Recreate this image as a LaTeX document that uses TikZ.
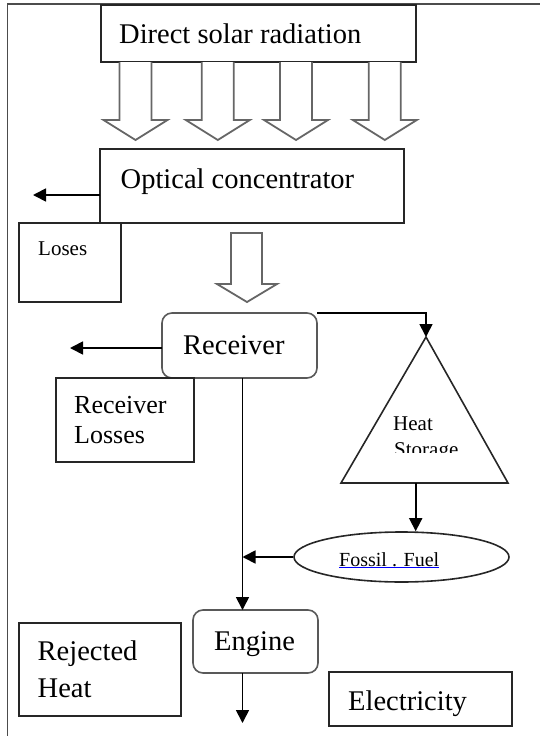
\documentclass[tikz,border=0pt]{standalone}
\usepackage{fontspec}
\setmainfont{Liberation Serif}
\usetikzlibrary{arrows.meta,shapes.geometric}

\begin{document}
\begin{tikzpicture}[x=1pt,y=-1pt,
  frame/.style={draw=black!70, line width=1.6pt},
  box/.style={draw=black!85, line width=1.8pt, inner sep=0pt, outer sep=0pt},
  rbox/.style={draw=black!65, line width=1.6pt, rounded corners=10pt, inner sep=0pt, outer sep=0pt},
  flow/.style={draw=black, line width=1.7pt},
  tip/.style={-{Triangle[length=13pt,width=13pt]}},
  hollow/.style={draw=black!60, line width=1.8pt, fill=white, line join=miter},
  big/.style={font=\fontsize{28.5}{30}\selectfont, anchor=base west, inner sep=0pt},
  mid/.style={font=\fontsize{26}{29}\selectfont, anchor=base west, inner sep=0pt},
  small/.style={font=\fontsize{21}{22}\selectfont, anchor=base west, inner sep=0pt},
]
\useasboundingbox (0,0) rectangle (540,736);

% page frame (only top and left edges fall inside the picture)
\draw[frame] (7.5,740) -- (7.5,4) -- (545,4);

% boxes
\node[box, minimum width=315, minimum height=57] (sun) at (258.5,33.5) {};
\node[box, minimum width=304, minimum height=74] (optic) at (252,186) {};
\node[box, minimum width=102, minimum height=79] (loses) at (70,262.5) {};
\node[rbox, minimum width=155, minimum height=65] (recv) at (239.5,345.5) {};
\node[box, minimum width=138, minimum height=84] (recvloss) at (125,420) {};
\node[draw=black!85, line width=1.6pt, ellipse, inner sep=0pt, minimum width=215, minimum height=50] (fossil) at (401.5,557) {};
\node[rbox, minimum width=125, minimum height=63] (engine) at (255.5,641.5) {};
\node[box, minimum width=162, minimum height=93] (reject) at (100,669.5) {};
\node[box, minimum width=183, minimum height=54] (elec) at (420.5,699) {};

% heat storage triangle
\coordinate (hsapex) at (426,337);
\coordinate (hsleft) at (341,483);
\coordinate (hsright) at (508,483);
\coordinate (hsout) at (415.7,483);
\draw[draw=black!85, line width=1.6pt] (hsapex) -- (hsright) -- (hsleft) -- cycle;

% hollow arrows from the sun box
\foreach \cx in {135.5,217.8,296,384.8}{
  \draw[hollow] (\cx-16,62) -- (\cx-16,120) -- (\cx-32,120) -- (\cx,140)
     -- (\cx+32,120) -- (\cx+16,120) -- (\cx+16,62);
}
% hollow arrow into the receiver
\draw[hollow] (231,233) -- (231,284) -- (217,284) -- (247,302) -- (277,284)
   -- (262,284) -- (262,233) -- cycle;

% texts
\node[big] (tsun) at (119,43) {Direct solar radiation};
\node[big] (toptic) at (120.5,188) {Optical concentrator};
\node[small] (tloses) at (38,255) {Loses};
\node[big] (trecv) at (183,354) {Receiver};
\node[mid] (trl1) at (74,413) {Receiver};
\node[mid] (trl2) at (74,443) {Losses};
\node[small] (theat) at (393,430) {Heat};
\begin{scope}
  \clip (341,300) rectangle (508,452.5);
  \node[small] (tstore) at (394,456) {Storage};
\end{scope}
\node[font=\fontsize{20}{22}\selectfont, anchor=base west, inner sep=0pt] (tfossil) at (339,566) {Fossil . Fuel};
\draw[blue, line width=0.9pt] ([yshift=-1.6pt]tfossil.base west) -- ([yshift=-1.6pt]tfossil.base east);
\node[big] (tengine) at (214,650) {Engine};
\node[big] (trej1) at (37.5,660) {Rejected};
\node[big] (trej2) at (37.5,697) {Heat};
\node[big] (telec) at (348,710) {Electricity};

% connectors
\coordinate (optend) at (33,195);
\coordinate (recvend) at (70,348);
\coordinate (trunk) at (242.5,557);
\coordinate (outend) at (242.5,723);
\coordinate (hsin) at (426,313);

\draw[flow,tip] (optic.west |- optend) -- (optend);
\draw[flow,tip] (recv.west |- recvend) -- (recvend);
\draw[flow,tip] (recv.north east) -- (hsin) -- (hsapex);
\draw[flow,tip] (recv.south -| trunk) -- (engine.north -| trunk);
\draw[flow,tip] (hsout) -- (fossil.north -| hsout);
\draw[flow,tip] (fossil.west) -- (trunk);
\draw[flow,tip] (engine.south -| outend) -- (outend);
\end{tikzpicture}
\end{document}
